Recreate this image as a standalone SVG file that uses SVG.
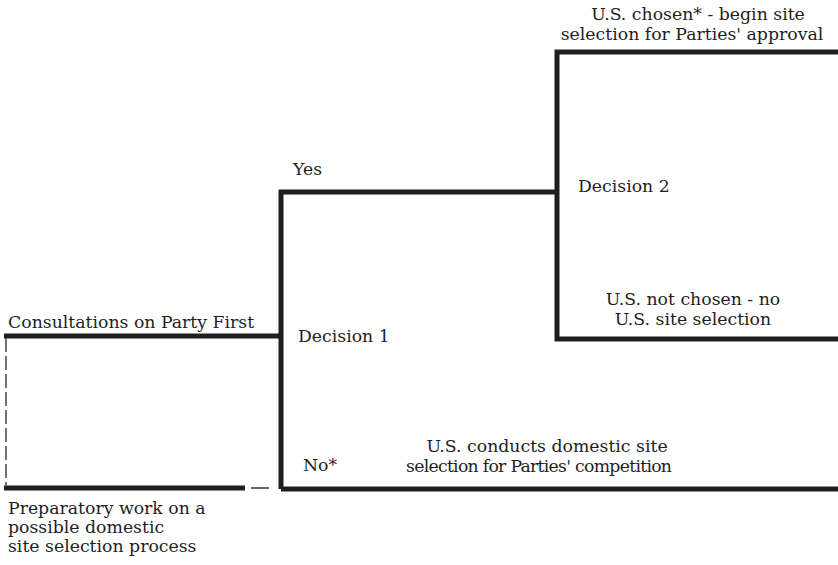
<svg xmlns="http://www.w3.org/2000/svg" width="838" height="565" viewBox="0 0 838 565">
<style>
text{font-family:"DejaVu Serif","Liberation Serif",serif;font-size:17.3px;fill:#1e1e1e}
.c{text-anchor:middle}
.thick{fill:none;stroke:#1e1e1e;stroke-width:5;stroke-linejoin:miter;stroke-linecap:butt}
.thin{fill:none;stroke:#333;stroke-width:1.5}
.dash{fill:none;stroke:#444;stroke-width:1.5;stroke-dasharray:14 4}
</style>
<rect width="838" height="565" fill="#fff"/>
<g id="connectors">
<path class="thick" d="M4,336 H281"/>
<path class="thick" d="M281,489 V192 H557"/>
<path class="thick" d="M838,52 H557 V339 H838"/>
<path class="thick" d="M281,489 H838"/>
<path class="thick" d="M4,488 H245"/>
<path class="thin" d="M251,488 H269"/>
<path class="dash" d="M6,338 V487"/>
</g>
<g id="consultations"><text x="8" y="328">Consultations on Party First</text></g>
<g id="preparatory">
<text x="8" y="514">Preparatory work on a</text>
<text x="8" y="533">possible domestic</text>
<text x="8" y="552">site selection process</text>
</g>
<g id="decision1"><text x="298" y="342">Decision 1</text></g>
<g id="yes"><text x="293" y="175">Yes</text></g>
<g id="no"><text x="303" y="471">No*</text></g>
<g id="decision2"><text x="578" y="192">Decision 2</text></g>
<g id="us-chosen">
<text class="c" x="698" y="20">U.S. chosen* - begin site</text>
<text class="c" x="692" y="40">selection for Parties' approval</text>
</g>
<g id="us-not-chosen">
<text class="c" x="693" y="305">U.S. not chosen - no</text>
<text class="c" x="693" y="325">U.S. site selection</text>
</g>
<g id="us-conducts">
<text class="c" x="547" y="452">U.S. conducts domestic site</text>
<text class="c" x="539" y="472" textLength="266">selection for Parties' competition</text>
</g>
</svg>
